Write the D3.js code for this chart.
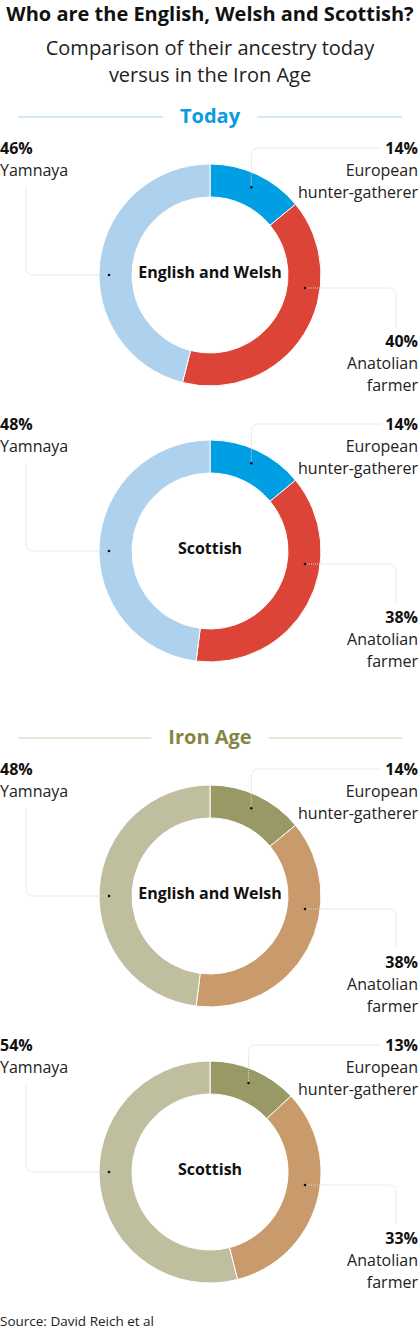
<!DOCTYPE html>
<html>
<head>
<meta charset="utf-8">
<script src="https://cdn.jsdelivr.net/npm/d3@7"></script>
<style>
  body { margin: 0; background: #fff; }
  svg { display: block; font-family: "Open Sans", sans-serif; }
</style>
</head>
<body>
<div id="chart"></div>
<script>
// ancestry shares, clockwise from 12 o'clock
var categories = ["European hunter-gatherer", "Anatolian farmer", "Yamnaya"];
var categoryLines = [["European", "hunter-gatherer"], ["Anatolian", "farmer"], ["Yamnaya"]];
var groups = ["English and Welsh", "Scottish"];
var periods = ["Today", "Iron Age"];
var todayValues = [[14, 40, 46], [14, 38, 48]];
var ironAgeValues = [[14, 38, 48], [13, 33, 54]];

var periodColors = [
    ["#009ee3", "#dc4437", "#aed2ee"],
    ["#999966", "#c99a6b", "#bfbf9f"]
];
var headerColors = ["#0a9be0", "#868644"];
var headerRuleColors = ["#a9d4ef", "#cfcfb3"];

var width = 420, height = 1330;
var cx = 210, innerR = 78, outerR = 111;
var donutY = [[275, 551], [896, 1172]];
var headerY = [116, 737];

var svg = d3.select("#chart").append("svg").attr("width", width).attr("height", height);

svg.append("text").attr("x", width / 2).attr("y", 21)
    .attr("text-anchor", "middle").attr("font-size", 20).attr("font-weight", 700)
    .attr("fill", "#111").text("Who are the English, Welsh and Scottish?");

svg.append("text").attr("x", width / 2).attr("y", 55)
    .attr("text-anchor", "middle").attr("font-size", 20).attr("fill", "#222")
    .text("Comparison of their ancestry today");
svg.append("text").attr("x", width / 2).attr("y", 82)
    .attr("text-anchor", "middle").attr("font-size", 20).attr("fill", "#222")
    .text("versus in the Iron Age");

var pie = d3.pie().sort(null).value(function (d) { return d; });
var arc = d3.arc().innerRadius(innerR).outerRadius(outerR);

periods.forEach(function (period, p) {
    var values = p === 0 ? todayValues : ironAgeValues;

    // section header with rules either side
    var hdr = svg.append("text").attr("x", width / 2).attr("y", headerY[p] + 7)
        .attr("text-anchor", "middle").attr("font-size", 20).attr("font-weight", 700)
        .attr("fill", headerColors[p]).text(period);
    var tw = hdr.node().getComputedTextLength();
    svg.append("line").attr("x1", 18).attr("x2", width / 2 - tw / 2 - 17)
        .attr("y1", headerY[p] + 1).attr("y2", headerY[p] + 1)
        .attr("stroke", headerRuleColors[p]).attr("stroke-width", 1.2);
    svg.append("line").attr("x1", width / 2 + tw / 2 + 17).attr("x2", 402)
        .attr("y1", headerY[p] + 1).attr("y2", headerY[p] + 1)
        .attr("stroke", headerRuleColors[p]).attr("stroke-width", 1.2);

    groups.forEach(function (group, gi) {
        var cy = donutY[p][gi];
        var color = d3.scaleOrdinal().domain(categories).range(periodColors[p]);
        var arcs = pie(values[gi]);

        var g = svg.append("g").attr("transform", "translate(" + cx + "," + cy + ")");

        g.selectAll(".slice")
            .data(arcs)
            .enter().append("path")
            .attr("class", "slice")
            .attr("d", arc)
            .attr("fill", function (d, i) { return color(categories[i]); })
            .attr("stroke", "#fff")
            .attr("stroke-width", 1);

        g.append("text").attr("x", 0).attr("y", 3)
            .attr("text-anchor", "middle").attr("font-size", 16).attr("font-weight", 700)
            .attr("fill", "#111").text(group);

        // anchor dots
        var a0 = (arcs[0].startAngle + arcs[0].endAngle) / 2;
        var dots = [
            [Math.sin(a0) * 97, -Math.cos(a0) * 97],
            [95, 13],
            [-101, 0]
        ];
        var rc = 8;
        var lineTop = -127;

        var leaders = [
            "M" + dots[0][0] + "," + dots[0][1] + "V" + (lineTop + rc) +
                "Q" + dots[0][0] + "," + lineTop + " " + (dots[0][0] + rc) + "," + lineTop +
                "H" + (381 - cx),
            "M" + dots[1][0] + "," + dots[1][1] + "H" + (396 - cx - rc) +
                "Q" + (396 - cx) + "," + dots[1][1] + " " + (396 - cx) + "," + (dots[1][1] + rc) +
                "V52",
            "M" + dots[2][0] + "," + dots[2][1] + "H" + (26 - cx + rc) +
                "Q" + (26 - cx) + ",0 " + (26 - cx) + "," + (-rc) +
                "V-88"
        ];

        g.selectAll(".leader")
            .data(leaders)
            .enter().append("path")
            .attr("class", "leader")
            .attr("d", function (d) { return d; })
            .attr("fill", "none")
            .attr("stroke", "#d4d4d4")
            .attr("stroke-width", 1)
            .attr("stroke-dasharray", "1,1");

        g.selectAll(".dot")
            .data(dots)
            .enter().append("circle")
            .attr("class", "dot")
            .attr("cx", function (d) { return d[0]; })
            .attr("cy", function (d) { return d[1]; })
            .attr("r", 1.3)
            .attr("fill", "#111");

        // labels
        var labelPos = [
            { x: 418 - cx, y: -127, anchor: "end" },
            { x: 418 - cx, y: 66, anchor: "end" },
            { x: 0 - cx, y: -127, anchor: "start" }
        ];
        arcs.forEach(function (d, i) {
            var lp = labelPos[i];
            var t = g.append("text").attr("text-anchor", lp.anchor).attr("font-size", 16).attr("fill", "#222");
            t.append("tspan").attr("x", lp.x).attr("y", lp.y + 6)
                .attr("font-weight", 700).attr("fill", "#111").text(d.data + "%");
            categoryLines[i].forEach(function (line, li) {
                t.append("tspan").attr("x", lp.x).attr("y", lp.y + 6 + 22 * (li + 1)).text(line);
            });
        });
    });
});

svg.append("text").attr("x", 0).attr("y", 1326)
    .attr("font-size", 13.5).attr("fill", "#222").text("Source: David Reich et al");
</script>
</body>
</html>
